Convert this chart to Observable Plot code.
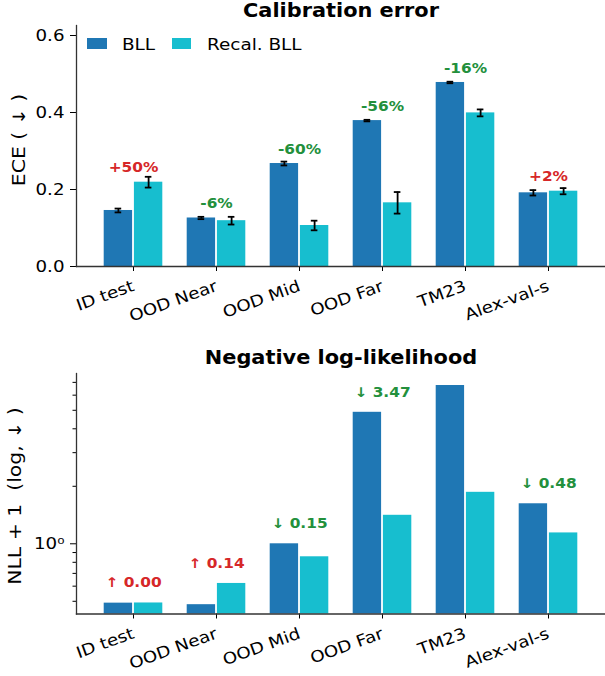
<!DOCTYPE html>
<html>
<head>
<meta charset="utf-8">
<script src="https://cdn.jsdelivr.net/npm/d3@7"></script>
<script src="https://cdn.jsdelivr.net/npm/@observablehq/plot@0.6"></script>
<style>
  body { margin: 0; background: #fff; font-family: "DejaVu Sans", sans-serif; }
  #wrap { position: relative; width: 605px; height: 676px; overflow: hidden; }
  .panel { position: absolute; left: 0; }
  .title { position: absolute; font-weight: bold; font-size: 19.5px; line-height: 1.1; white-space: pre; transform: translateX(-50%) scaleX(1.07); }
  .ylab { position: absolute; font-size: 17px; line-height: 1; white-space: pre; transform: translate(-50%, -50%) rotate(-90deg) scaleX(1.2); }
  .sw { position: absolute; width: 19.5px; height: 10.7px; }
  .lt { position: absolute; font-size: 16px; line-height: 1; white-space: pre; transform-origin: left center; transform: scaleX(1.15); }
</style>
</head>
<body>
<div id="wrap"></div>
<script>
// ---------------- data ----------------
const categories = ["ID test", "OOD Near", "OOD Mid", "OOD Far", "TM23", "Alex-val-s"];
const seriesNames = ["BLL", "Recal. BLL"];

const eceBLL      = [0.1455, 0.126, 0.2675, 0.379, 0.478, 0.1914];
const eceBLLErr   = [0.005, 0.003, 0.005, 0.002, 0.002, 0.007];
const eceRecal    = [0.219, 0.119, 0.1065, 0.1654, 0.399, 0.1956];
const eceRecalErr = [0.014, 0.010, 0.0125, 0.028, 0.009, 0.008];
const eceLabels   = ["+50%", "-6%", "-60%", "-56%", "-16%", "+2%"];
const eceTicks    = [0, 0.2, 0.4, 0.6];

const nllBLL    = [0.489, 0.48, 1.0, 4.88, 6.74, 1.62];
const nllRecal  = [0.49, 0.62, 0.855, 1.41, 1.86, 1.14];
const nllLabels = ["↑ 0.00", "↑ 0.14", "↓ 0.15", "↓ 3.47", null, "↓ 0.48"];
const nllMajorTicks = [1];
const nllMinorTicks = [0.5, 0.6, 0.7, 0.8, 0.9, 2, 3, 4, 5, 6, 7];

// ---------------- style / layout ----------------
const C1 = "#1f77b4", C2 = "#17becf", RED = "#d62728", GREEN = "#23903c", SPINE = "#333";
const FONT = '"DejaVu Sans", sans-serif';
const W = 605, ML = 76, PI = 0.28, PO = 0.2925;
const step = (W - ML) / (categories.length - PI + 2 * PO);
const gw = step * (1 - PI), half = gw / 2, capW = 7, gap = 0.7;
const xOpts = {type: "band", domain: categories, paddingInner: PI, paddingOuter: PO, align: 0.5};

const wrap = document.getElementById("wrap");

function stretchText(svg, k) {
  for (const t of svg.querySelectorAll("text")) {
    let tr = t.getAttribute("transform") || "";
    const x = t.getAttribute("x"), y = t.getAttribute("y");
    if (!tr && (x || y)) { tr = `translate(${x || 0},${y || 0})`; t.removeAttribute("x"); t.removeAttribute("y"); }
    t.setAttribute("transform", tr + ` scale(${k},1)`);
  }
}

function errMarks(rows, dx) {
  const ins = (gw - capW) / 2;
  return [
    Plot.ruleX(rows, {x: "cat", y1: d => d.v - d.e, y2: d => d.v + d.e, dx, stroke: "#000", strokeWidth: 1.8}),
    Plot.tickY(rows, {x: "cat", y: d => d.v - d.e, dx, insetLeft: ins, insetRight: ins, stroke: "#000", strokeWidth: 1.8}),
    Plot.tickY(rows, {x: "cat", y: d => d.v + d.e, dx, insetLeft: ins, insetRight: ins, stroke: "#000", strokeWidth: 1.8})
  ];
}

// ---------------- top: calibration error ----------------
const eB = categories.map((c, i) => ({cat: c, v: eceBLL[i], e: eceBLLErr[i]}));
const eR = categories.map((c, i) => ({cat: c, v: eceRecal[i], e: eceRecalErr[i]}));
const eA = categories.map((c, i) => ({cat: c, top: Math.max(eceBLL[i], eceRecal[i]), label: eceLabels[i]}));
const isUp = d => d.label.startsWith("+") || d.label.startsWith("↑");
const annStyle = {fontWeight: "bold", fontSize: 13.5, lineAnchor: "bottom", dy: -4};

const topSvg = Plot.plot({
  width: W, height: 340,
  marginLeft: ML, marginRight: 0, marginTop: 25, marginBottom: 74,
  style: {fontFamily: FONT, fontSize: "16px", color: "#000", background: "transparent", overflow: "visible"},
  x: xOpts,
  y: {domain: [0, 0.626]},
  marks: [
    Plot.barY(eB, {x: "cat", y: "v", fill: C1, insetLeft: gap, insetRight: half + gap}),
    Plot.barY(eR, {x: "cat", y: "v", fill: C2, insetLeft: half + gap, insetRight: gap}),
    ...errMarks(eB, -half / 2),
    ...errMarks(eR, half / 2),
    Plot.text(eA.filter(isUp), {x: "cat", y: d => d.top + 0.015, text: "label", fill: RED, ...annStyle}),
    Plot.text(eA.filter(d => !isUp(d)), {x: "cat", y: d => d.top + 0.015, text: "label", fill: GREEN, ...annStyle}),
    Plot.axisY({ticks: eceTicks, tickFormat: d3.format(".1f"), tickSize: 6, tickPadding: 6, label: null}),
    Plot.axisX({tickRotate: -20, tickSize: 5, tickPadding: 14, label: null}),
    Plot.frame({anchor: "bottom", stroke: SPINE, strokeWidth: 1.3}),
    Plot.frame({anchor: "left", stroke: SPINE, strokeWidth: 1.3})
  ]
});
stretchText(topSvg, 1.14);

// ---------------- bottom: NLL ----------------
const nllDomain = [0.429, 7.79];
const nB = categories.map((c, i) => ({cat: c, v: nllBLL[i]}));
const nR = categories.map((c, i) => ({cat: c, v: nllRecal[i]}));
const nA = categories.map((c, i) => ({cat: c, top: Math.max(nllBLL[i], nllRecal[i]), label: nllLabels[i]})).filter(d => d.label);

const botSvg = Plot.plot({
  width: W, height: 336,
  marginLeft: ML, marginRight: 0, marginTop: 33, marginBottom: 62.5,
  style: {fontFamily: FONT, fontSize: "16px", color: "#000", background: "transparent", overflow: "visible"},
  x: xOpts,
  y: {type: "log", domain: nllDomain},
  marks: [
    Plot.barY(nB, {x: "cat", y1: () => nllDomain[0], y2: "v", fill: C1, insetLeft: gap, insetRight: half + gap}),
    Plot.barY(nR, {x: "cat", y1: () => nllDomain[0], y2: "v", fill: C2, insetLeft: half + gap, insetRight: gap}),
    Plot.text(nA.filter(isUp), {x: "cat", y: d => d.top * 1.15, text: "label", fill: RED, ...annStyle}),
    Plot.text(nA.filter(d => !isUp(d)), {x: "cat", y: d => d.top * 1.15, text: "label", fill: GREEN, ...annStyle}),
    Plot.axisY({ticks: nllMajorTicks, tickFormat: () => "10⁰", tickSize: 6, tickPadding: 6, label: null}),
    Plot.axisY({ticks: nllMinorTicks, tickFormat: () => "", tickSize: 3.5, label: null}),
    Plot.axisX({tickRotate: -20, tickSize: 5, tickPadding: 14, label: null}),
    Plot.frame({anchor: "bottom", stroke: SPINE, strokeWidth: 1.3}),
    Plot.frame({anchor: "left", stroke: SPINE, strokeWidth: 1.3})
  ]
});
stretchText(botSvg, 1.14);

// ---------------- assemble ----------------
function place(el, top) { const d = document.createElement("div"); d.className = "panel"; d.style.top = top + "px"; d.appendChild(el); wrap.appendChild(d); }
place(topSvg, 0);
place(botSvg, 340);

function addDiv(cls, text, css) {
  const d = document.createElement("div"); d.className = cls; d.textContent = text;
  Object.assign(d.style, css); wrap.appendChild(d); return d;
}
const axisCenter = (ML + W) / 2;
addDiv("title", "Calibration error", {left: axisCenter + "px", top: "0px"});
addDiv("title", "Negative log-likelihood", {left: axisCenter + "px", top: "347px"});
addDiv("ylab", "ECE ( ↓ )", {left: "19px", top: "140px"});
addDiv("ylab", "NLL + 1  (log, ↓ )", {left: "15px", top: "496px"});

// legend
const legX = [87.3, 171.7], legTX = [121.7, 206.7];
seriesNames.forEach((s, i) => {
  const sw = document.createElement("div"); sw.className = "sw";
  Object.assign(sw.style, {left: legX[i] + "px", top: "38.3px", background: i ? C2 : C1});
  wrap.appendChild(sw);
  addDiv("lt", s, {left: legTX[i] + "px", top: "36.5px"});
});
</script>
</body>
</html>
